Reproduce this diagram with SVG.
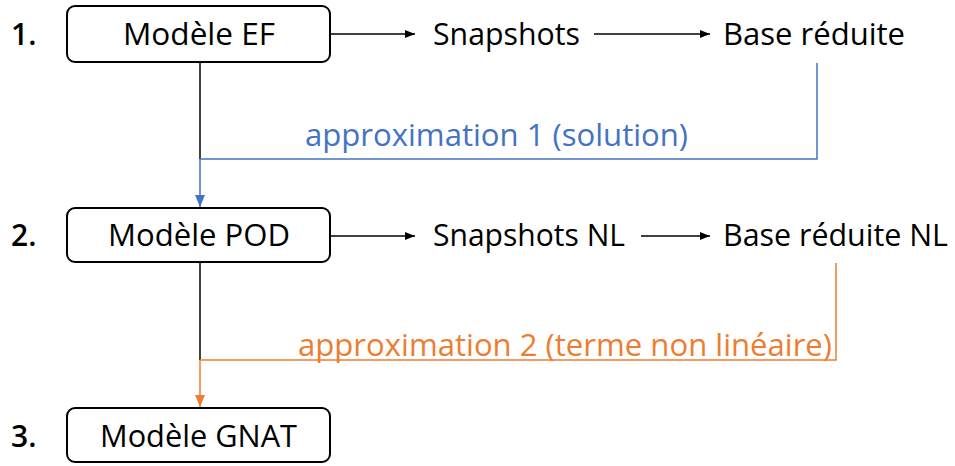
<svg xmlns="http://www.w3.org/2000/svg" width="955" height="466" viewBox="0 0 955 466">
<style>
text{font-family:"Open Sans",Lato,"DejaVu Sans",sans-serif;font-size:31px;fill:#000;font-weight:500}
text.n{font-size:30px;font-weight:600}
.box{fill:#fff;stroke:#000;stroke-width:2}
.blk{stroke:#000;stroke-width:1.5;fill:none}
.blu{stroke:#4472C4;stroke-width:1.5;fill:none}
.org{stroke:#ED7D31;stroke-width:1.5;fill:none}
text.b{fill:#4472C4}
text.o{fill:#ED7D31}
</style>
<defs>
<marker id="ak" viewBox="0 0 10 10" refX="10" refY="5" markerWidth="10" markerHeight="10" markerUnits="userSpaceOnUse" orient="auto"><path d="M0,1 L10,5 L0,9 Z" fill="#000"/></marker>
<marker id="ab" viewBox="0 0 12 10" refX="12" refY="5" markerWidth="12" markerHeight="10" markerUnits="userSpaceOnUse" orient="auto"><path d="M0,0 L12,5 L0,10 Z" fill="#4472C4"/></marker>
<marker id="ao" viewBox="0 0 12 10" refX="12" refY="5" markerWidth="12" markerHeight="10" markerUnits="userSpaceOnUse" orient="auto"><path d="M0,0 L12,5 L0,10 Z" fill="#ED7D31"/></marker>
</defs>
<g id="connectors">
<path class="blk" d="M331,34 H415" marker-end="url(#ak)"/>
<path class="blk" d="M594,34 H710" marker-end="url(#ak)"/>
<path class="blk" d="M331,236 H415" marker-end="url(#ak)"/>
<path class="blk" d="M641,236 H710" marker-end="url(#ak)"/>
<path class="blk" d="M200,63 V159"/>
<path class="blu" d="M817,63 V159 H200"/>
<path class="blu" d="M200,159 V207" marker-end="url(#ab)"/>
<path class="blk" d="M200,263 V360"/>
<path class="org" d="M836,263 V360 H200"/>
<path class="org" d="M200,360 V407" marker-end="url(#ao)"/>
</g>
<g id="label1"><text class="n" x="11" y="45">1.</text></g>
<g id="label2"><text class="n" x="11" y="246">2.</text></g>
<g id="label3"><text class="n" x="11" y="447">3.</text></g>
<g id="modele-ef"><rect class="box" x="67" y="6" width="263" height="56" rx="8"/><text x="123" y="45" textLength="152" lengthAdjust="spacingAndGlyphs">Modèle EF</text></g>
<g id="snapshots"><text x="433" y="45" textLength="147" lengthAdjust="spacingAndGlyphs">Snapshots</text></g>
<g id="base-reduite"><text x="723" y="45" textLength="182" lengthAdjust="spacingAndGlyphs">Base réduite</text></g>
<g id="approx1"><text class="b" x="305" y="146" textLength="383" lengthAdjust="spacingAndGlyphs">approximation 1 (solution)</text></g>
<g id="modele-pod"><rect class="box" x="67" y="208" width="263" height="54" rx="8"/><text x="108" y="246" textLength="182" lengthAdjust="spacingAndGlyphs">Modèle POD</text></g>
<g id="snapshots-nl"><text x="433" y="246" textLength="192" lengthAdjust="spacingAndGlyphs">Snapshots NL</text></g>
<g id="base-reduite-nl"><text x="723" y="246" textLength="225" lengthAdjust="spacingAndGlyphs">Base réduite NL</text></g>
<g id="approx2"><text class="o" x="298" y="356" textLength="534" lengthAdjust="spacingAndGlyphs">approximation 2 (terme non linéaire)</text></g>
<g id="modele-gnat"><rect class="box" x="67" y="408" width="263" height="54" rx="8"/><text x="100" y="447" textLength="197" lengthAdjust="spacingAndGlyphs">Modèle GNAT</text></g>
</svg>
